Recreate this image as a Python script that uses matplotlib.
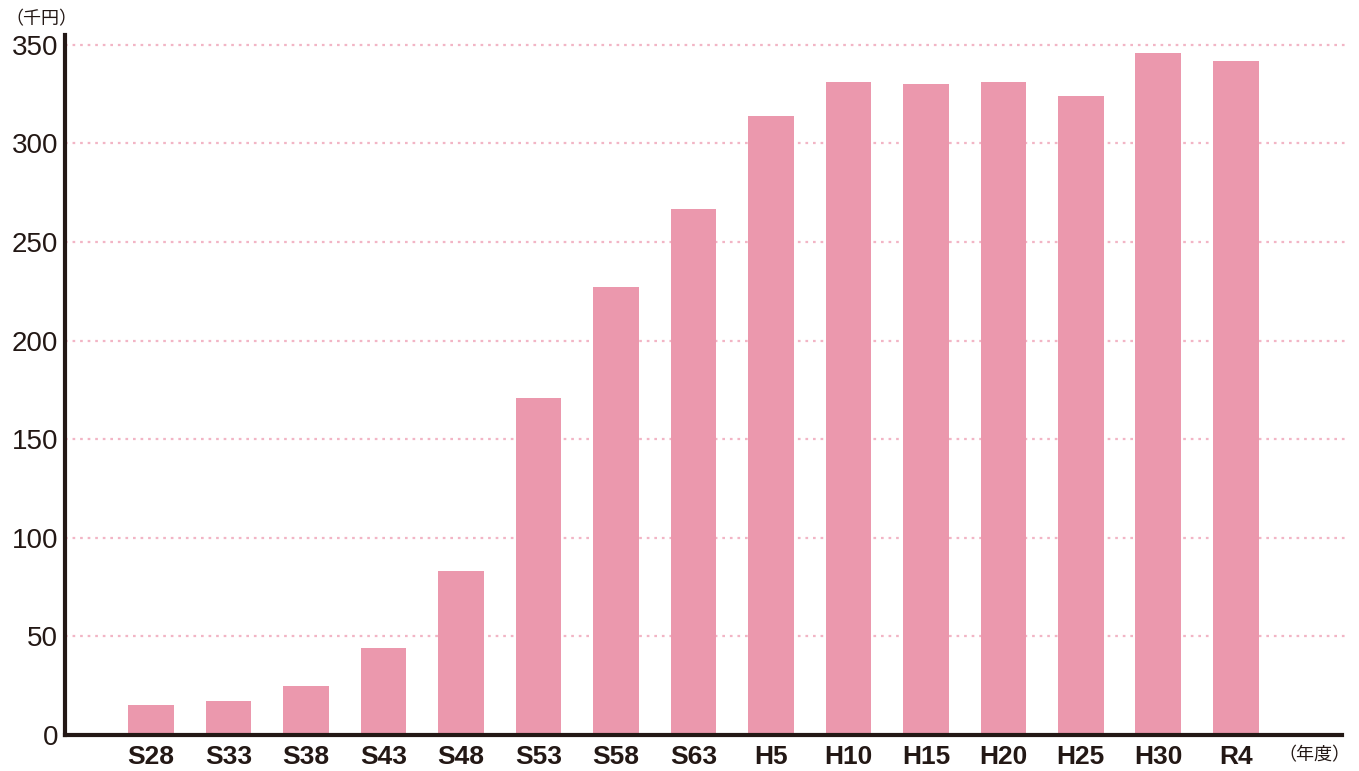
import matplotlib
matplotlib.use("Agg")
import matplotlib.pyplot as plt

years = ["S28", "S33", "S38", "S43", "S48", "S53", "S58", "S63",
         "H5", "H10", "H15", "H20", "H25", "H30", "R4"]
values = [15, 17, 25, 44, 83, 171, 227, 267,
          314, 331, 330, 331, 324, 346, 342]
yticks = [0, 50, 100, 150, 200, 250, 300, 350]

bar_color = "#EB98AD"
grid_color = "#F2B5C5"
ink = "#231815"

latin = "Liberation Sans"
cjk = ["Noto Sans CJK JP", "DejaVu Sans"]

fig = plt.figure(figsize=(13.59, 7.71), dpi=100)
ax = fig.add_axes([0.0478, 0.0467, 0.9397, 0.9079])

x = list(range(len(years)))
ax.bar(x, values, width=0.59, color=bar_color, zorder=2)

ax.set_ylim(0, 355)
ax.set_xlim(-1.11, 15.37)
ax.set_yticks(yticks)
ax.set_yticklabels([str(v) for v in yticks], fontfamily=latin, fontsize=20, color=ink)
ax.set_xticks(x)
ax.set_xticklabels(years, fontfamily=latin, fontweight="bold", fontsize=19, color=ink)
ax.tick_params(axis="both", length=0)
ax.tick_params(axis="y", pad=5)
ax.tick_params(axis="x", pad=7)

for v in yticks[1:]:
    ax.plot([-1.11, 15.42], [v, v], color=grid_color, lw=1.6,
            linestyle=(0, (1.2, 2.2)), zorder=1, clip_on=False)

for s in ["top", "right"]:
    ax.spines[s].set_visible(False)
for s in ["left", "bottom"]:
    ax.spines[s].set_color(ink)
    ax.spines[s].set_linewidth(3)

fig.text(0.004, 0.975, "（千円）", family=cjk, fontsize=13, color=ink, va="center", ha="left")
fig.text(0.994, 0.021, "（年度）", family=cjk, fontsize=13, color=ink, va="center", ha="right")

fig.savefig("out.png", dpi=100)
